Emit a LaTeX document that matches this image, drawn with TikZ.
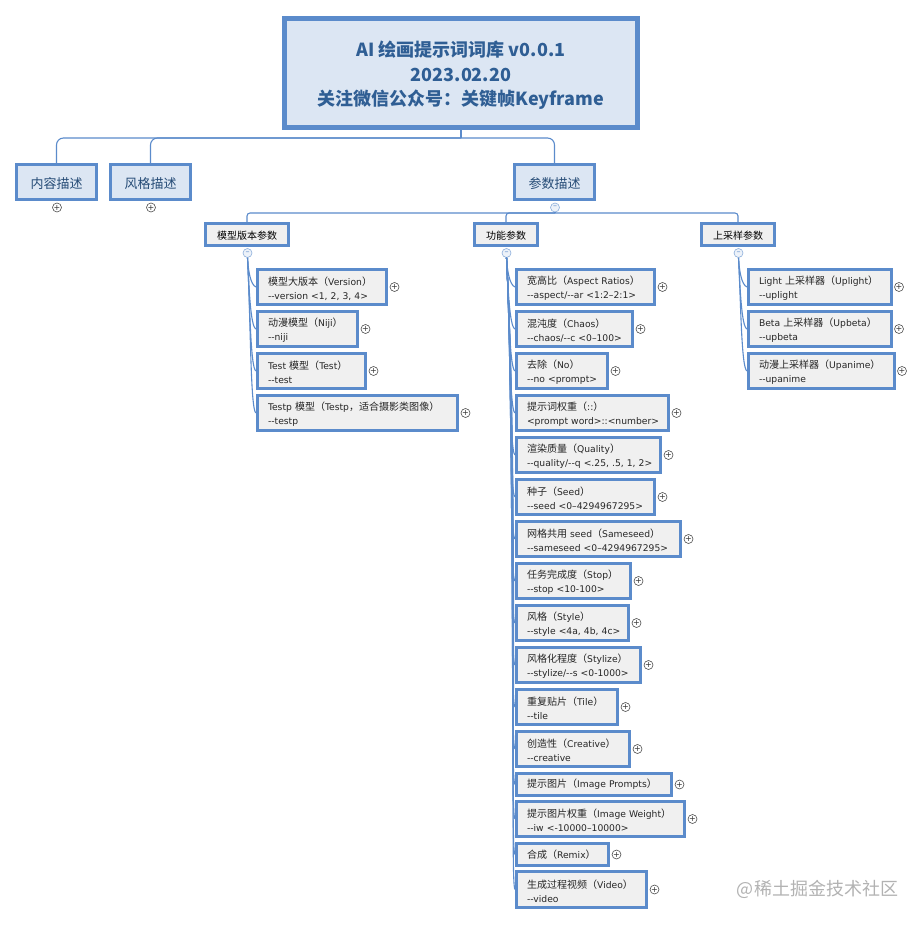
\documentclass[tikz,border=0pt]{standalone}
\usepackage{fontspec}
\usepackage{tikz}
\newfontfamily\latin[WordSpace=0.8]{DejaVu Sans}
\newfontfamily\cjk{Noto Sans CJK SC}
\newfontfamily\cjkleaf[Scale=1.09]{Noto Sans CJK SC}
\definecolor{edgeblue}{HTML}{5B8BCB}
\definecolor{paleblue}{HTML}{DCE6F3}
\definecolor{titleblue}{HTML}{2F5E94}
\definecolor{leafgray}{HTML}{F0F0F0}
\newcommand{\cn}[1]{{\cjkleaf #1}}
\newcommand{\leaflines}[2]{\mbox{\rule{0pt}{11.5pt}#1}\\\mbox{#2}}
\begin{document}
\begin{tikzpicture}[x=1pt, y=-1pt,
	rootbox/.style={draw=edgeblue, line width=5pt, fill=paleblue, minimum width=353pt, minimum height=109pt,
		align=center, text=titleblue, font=\cjk\bfseries\fontsize{18}{24.5}\selectfont},
	topicbox/.style={draw=edgeblue, line width=3pt, fill=paleblue, minimum width=80pt, minimum height=35pt,
		text height=14pt, text depth=0pt, text=titleblue!80!black, font=\cjk\fontsize{13}{16}\selectfont},
	headbox/.style={draw=edgeblue, line width=3pt, fill=leafgray, minimum height=21.5pt, inner xsep=2pt,
		text height=11pt, text depth=0pt, text=black, font=\cjk\fontsize{10}{14}\selectfont},
	leafbox/.style={draw=edgeblue, line width=3pt, fill=leafgray, anchor=west, text width=#1, inner xsep=10.5pt, inner ysep=1pt,
		minimum height=35.5pt, align=left, text=black!85, font=\latin\fontsize{9.2}{14}\selectfont},
	oneline/.style={minimum height=21.5pt},
	openfold/.style={circle, draw=black!70, fill=white, line width=0.6pt, inner sep=0pt, minimum size=9pt, text=black!80, font=\latin\fontsize{8}{8}\selectfont},
	shutfold/.style={circle, draw=edgeblue!70, fill=paleblue!50, line width=0.6pt, inner sep=0pt, minimum size=9pt, text=edgeblue, font=\latin\fontsize{8}{8}\selectfont},
	bus/.style={draw=edgeblue, line width=1.1pt, rounded corners=7pt},
	twig/.style={draw=edgeblue, line width=1.1pt, out=-87, in=160, in distance=6pt}]
\useasboundingbox (0,0) rectangle (923,925);

\node[rootbox] (root) at (461,73) {\rule{0pt}{20pt}AI 绘画提示词词库 v0.0.1\\2023.02.20\\关注微信公众号：关键帧Keyframe};

\coordinate (rootbus) at (461,138);
\node[topicbox] (content) at (56.5,182) {内容描述};
\node[topicbox] (styling) at (150.5,182) {风格描述};
\node[topicbox] (params) at (554.5,182) {参数描述};
\node[openfold] (contentfold) at (57,207.5) {+};
\node[openfold] (stylingfold) at (151,207.5) {+};
\node[shutfold] (paramsfold) at (555,207.5) {–};
\draw[bus] (root.south) -- (rootbus);
\draw[bus] (rootbus) -| (content.north);
\draw[bus] (rootbus) -| (styling.north);
\draw[bus] (rootbus) -| (params.north);

\coordinate (parambus) at (555,213);
\node[headbox, minimum width=83pt] (modelhead) at (247,234.5) {模型版本参数};
\node[headbox, minimum width=63pt] (funchead) at (506,234.5) {功能参数};
\node[headbox, minimum width=73pt] (uphead) at (738,234.5) {上采样参数};
\node[shutfold] (modelfold) at (247.5,253) {–};
\node[shutfold] (funcfold) at (506.5,253) {–};
\node[shutfold] (upfold) at (738.5,253) {–};
\draw[bus] (paramsfold.south) -- (parambus);
\draw[bus, rounded corners=3pt] (parambus) -| (modelhead.north);
\draw[bus, rounded corners=3pt] (parambus) -| (funchead.north);
\draw[bus, rounded corners=3pt] (parambus) -| (uphead.north);

\node[leafbox=108pt] (version) at (256,287) {\leaflines{\cn{模型大版本（}Version\cn{）}}{--version <1, 2, 3, 4>}};
\node[leafbox=79pt] (niji) at (256,329) {\leaflines{\cn{动漫模型（}Niji\cn{）}}{--niji}};
\node[leafbox=87pt] (test) at (256,371) {\leaflines{Test \cn{模型（}Test\cn{）}}{--test}};
\node[leafbox=179pt] (testp) at (256,413) {\leaflines{Testp \cn{模型（}Testp\cn{，适合摄影类图像）}}{--testp}};
\node[openfold] (versionfold) at (394.5,287) {+};
\node[openfold] (nijifold) at (365.5,329) {+};
\node[openfold] (testfold) at (373.5,371) {+};
\node[openfold] (testpfold) at (465.5,413) {+};
\draw[twig] (modelfold.south) to (version.west);
\draw[twig] (modelfold.south) to (niji.west);
\draw[twig] (modelfold.south) to (test.west);
\draw[twig] (modelfold.south) to (testp.west);

\node[leafbox=117pt] (aspect) at (515,287) {\leaflines{\cn{宽高比（}Aspect Ratios\cn{）}}{--aspect/--ar <1:2–2:1>}};
\node[leafbox=95pt] (chaos) at (515,329) {\leaflines{\cn{混沌度（}Chaos\cn{）}}{--chaos/--c <0–100>}};
\node[leafbox=70pt] (noprompt) at (515,371) {\leaflines{\cn{去除（}No\cn{）}}{--no <prompt>}};
\node[leafbox=131pt] (wordweight) at (515,413) {\leaflines{\cn{提示词权重（}::\cn{）}}{<prompt word>::<number>}};
\node[leafbox=123pt] (quality) at (515,455) {\leaflines{\cn{渲染质量（}Quality\cn{）}}{--quality/--q <.25, .5, 1, 2>}};
\node[leafbox=117pt] (seed) at (515,497) {\leaflines{\cn{种子（}Seed\cn{）}}{--seed <0–4294967295>}};
\node[leafbox=143pt] (sameseed) at (515,539) {\leaflines{\cn{网格共用} seed\cn{（}Sameseed\cn{）}}{--sameseed <0–4294967295>}};
\node[leafbox=93pt] (stop) at (515,581) {\leaflines{\cn{任务完成度（}Stop\cn{）}}{--stop <10-100>}};
\node[leafbox=91pt] (stylename) at (515,623) {\leaflines{\cn{风格（}Style\cn{）}}{--style <4a, 4b, 4c>}};
\node[leafbox=103pt] (stylize) at (515,665) {\leaflines{\cn{风格化程度（}Stylize\cn{）}}{--stylize/--s <0-1000>}};
\node[leafbox=80pt] (tile) at (515,707) {\leaflines{\cn{重复贴片（}Tile\cn{）}}{--tile}};
\node[leafbox=92pt] (creative) at (515,749) {\leaflines{\cn{创造性（}Creative\cn{）}}{--creative}};
\node[leafbox=134pt, oneline] (imgprompts) at (515,784.5) {\mbox{\cn{提示图片（}Image Prompts\cn{）}}};
\node[leafbox=147pt] (imgweight) at (515,819) {\leaflines{\cn{提示图片权重（}Image Weight\cn{）}}{--iw <-10000–10000>}};
\node[leafbox=71pt, oneline] (remix) at (515,854.5) {\mbox{\cn{合成（}Remix\cn{）}}};
\node[leafbox=109pt] (video) at (515,889.5) {\leaflines{\cn{生成过程视频（}Video\cn{）}}{--video}};
\node[openfold] (aspectfold) at (662.5,287) {+};
\node[openfold] (chaosfold) at (640.5,329) {+};
\node[openfold] (nopromptfold) at (615.5,371) {+};
\node[openfold] (wordweightfold) at (676.5,413) {+};
\node[openfold] (qualityfold) at (668.5,455) {+};
\node[openfold] (seedfold) at (662.5,497) {+};
\node[openfold] (sameseedfold) at (688.5,539) {+};
\node[openfold] (stopfold) at (638.5,581) {+};
\node[openfold] (stylenamefold) at (636.5,623) {+};
\node[openfold] (stylizefold) at (648.5,665) {+};
\node[openfold] (tilefold) at (625.5,707) {+};
\node[openfold] (creativefold) at (637.5,749) {+};
\node[openfold] (imgpromptsfold) at (679.5,784.5) {+};
\node[openfold] (imgweightfold) at (692.5,819) {+};
\node[openfold] (remixfold) at (616.5,854.5) {+};
\node[openfold] (videofold) at (654.5,889.5) {+};
\draw[twig] (funcfold.south) to (aspect.west);
\draw[twig] (funcfold.south) to (chaos.west);
\draw[twig] (funcfold.south) to (noprompt.west);
\draw[twig] (funcfold.south) to (wordweight.west);
\draw[twig] (funcfold.south) to (quality.west);
\draw[twig] (funcfold.south) to (seed.west);
\draw[twig] (funcfold.south) to (sameseed.west);
\draw[twig] (funcfold.south) to (stop.west);
\draw[twig] (funcfold.south) to (stylename.west);
\draw[twig] (funcfold.south) to (stylize.west);
\draw[twig] (funcfold.south) to (tile.west);
\draw[twig] (funcfold.south) to (creative.west);
\draw[twig] (funcfold.south) to (imgprompts.west);
\draw[twig] (funcfold.south) to (imgweight.west);
\draw[twig] (funcfold.south) to (remix.west);
\draw[twig] (funcfold.south) to (video.west);

\node[leafbox=122pt] (uplight) at (747,287) {\leaflines{Light \cn{上采样器（}Uplight\cn{）}}{--uplight}};
\node[leafbox=122pt] (upbeta) at (747,329) {\leaflines{Beta \cn{上采样器（}Upbeta\cn{）}}{--upbeta}};
\node[leafbox=125pt] (upanime) at (747,371) {\leaflines{\cn{动漫上采样器（}Upanime\cn{）}}{--upanime}};
\node[openfold] (uplightfold) at (899,287) {+};
\node[openfold] (upbetafold) at (899,329) {+};
\node[openfold] (upanimefold) at (902,371) {+};
\draw[twig] (upfold.south) to (uplight.west);
\draw[twig] (upfold.south) to (upbeta.west);
\draw[twig] (upfold.south) to (upanime.west);

\node[text=black!30, font=\cjk\fontsize{18}{18}\selectfont, inner sep=0pt] (mark) at (817.5,889) {@稀土掘金技术社区};
\end{tikzpicture}
\end{document}
